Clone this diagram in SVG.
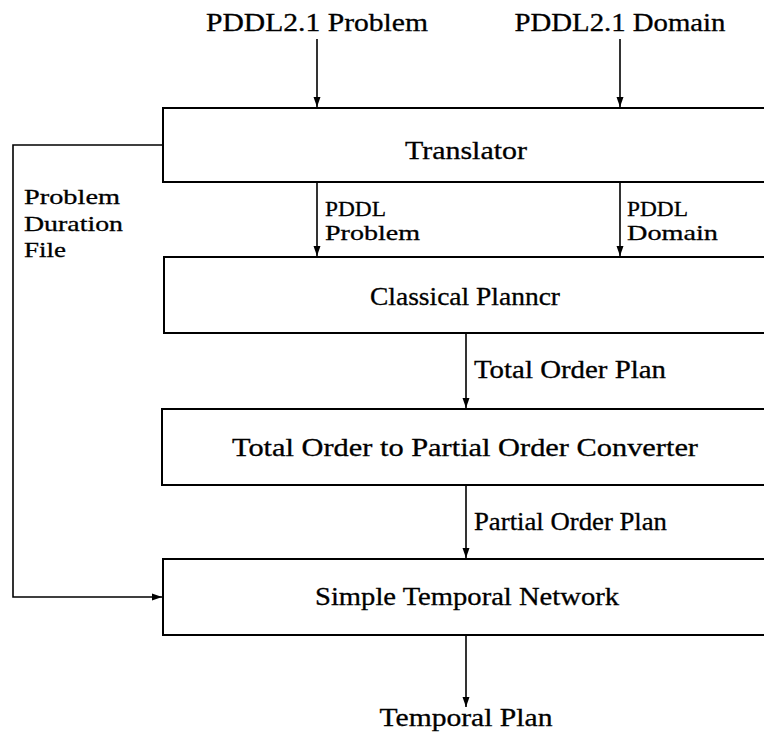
<svg xmlns="http://www.w3.org/2000/svg" width="764" height="737" viewBox="0 0 764 737">
  <style>
    .box { fill: #ffffff; stroke: #000000; stroke-width: 2; }
    .edge { fill: none; stroke: #000000; stroke-width: 1.6; }
    .t { font-family: "Liberation Serif", serif; font-size: 25px; fill: #000000; stroke: #000000; stroke-width: 0.3; }
    .s { font-size: 22px; }
    .c { text-anchor: middle; }
  </style>
  <defs>
    <marker id="arrow" viewBox="0 0 10 10" refX="10" refY="5" markerWidth="10" markerHeight="10" markerUnits="userSpaceOnUse" orient="auto">
      <path d="M0,1.5 L10,5 L0,8.5 Z" fill="#000000"/>
    </marker>
  </defs>

  <rect width="764" height="737" fill="#ffffff"/>

  <!-- inputs -->
  <text x="317" y="31" class="t c" textLength="222" lengthAdjust="spacingAndGlyphs">PDDL2.1 Problem</text>
  <text x="620" y="31" class="t c" textLength="211" lengthAdjust="spacingAndGlyphs">PDDL2.1 Domain</text>

  <!-- connectors -->
  <g id="connectors">
    <line class="edge" x1="317" y1="39" x2="317" y2="107" marker-end="url(#arrow)"/>
    <line class="edge" x1="620" y1="39" x2="620" y2="107" marker-end="url(#arrow)"/>
    <line class="edge" x1="317" y1="182" x2="317" y2="256" marker-end="url(#arrow)"/>
    <line class="edge" x1="620" y1="182" x2="620" y2="256" marker-end="url(#arrow)"/>
    <line class="edge" x1="466" y1="333" x2="466" y2="408" marker-end="url(#arrow)"/>
    <line class="edge" x1="466" y1="485" x2="466" y2="558" marker-end="url(#arrow)"/>
    <line class="edge" x1="466" y1="635" x2="466" y2="707" marker-end="url(#arrow)"/>
    <!-- problem duration file feedback path -->
    <polyline class="edge" points="163,145 13,145 13,597 162,597" marker-end="url(#arrow)"/>
  </g>

  <!-- edge labels -->
  <text x="325" y="216" class="t s" textLength="61" lengthAdjust="spacingAndGlyphs">PDDL</text>
  <text x="325" y="240" class="t s" textLength="95" lengthAdjust="spacingAndGlyphs">Problem</text>
  <text x="627" y="216" class="t s" textLength="61" lengthAdjust="spacingAndGlyphs">PDDL</text>
  <text x="627" y="240" class="t s" textLength="91" lengthAdjust="spacingAndGlyphs">Domain</text>
  <text x="474" y="378" class="t" textLength="192" lengthAdjust="spacingAndGlyphs">Total Order Plan</text>
  <text x="474" y="530" class="t" textLength="193" lengthAdjust="spacingAndGlyphs">Partial Order Plan</text>
  <text x="24" y="204" class="t s" textLength="96" lengthAdjust="spacingAndGlyphs">Problem</text>
  <text x="24" y="231" class="t s" textLength="99" lengthAdjust="spacingAndGlyphs">Duration</text>
  <text x="24" y="257" class="t s" textLength="42" lengthAdjust="spacingAndGlyphs">File</text>

  <!-- nodes -->
  <g id="translator">
    <rect class="box" x="163" y="108" width="640" height="74"/>
    <text x="466" y="159" class="t c" textLength="122" lengthAdjust="spacingAndGlyphs">Translator</text>
  </g>
  <g id="classical-planner">
    <rect class="box" x="164" y="257" width="640" height="76"/>
    <text x="465" y="305" class="t c" textLength="190" lengthAdjust="spacingAndGlyphs">Classical Planncr</text>
  </g>
  <g id="converter">
    <rect class="box" x="162" y="409" width="640" height="76"/>
    <text x="465" y="456" class="t c" textLength="466" lengthAdjust="spacingAndGlyphs">Total Order to Partial Order Converter</text>
  </g>
  <g id="stn">
    <rect class="box" x="163" y="559" width="640" height="76"/>
    <text x="467" y="605" class="t c" textLength="304" lengthAdjust="spacingAndGlyphs">Simple Temporal Network</text>
  </g>

  <!-- output -->
  <text x="466" y="726" class="t c" textLength="173" lengthAdjust="spacingAndGlyphs">Temporal Plan</text>
</svg>
